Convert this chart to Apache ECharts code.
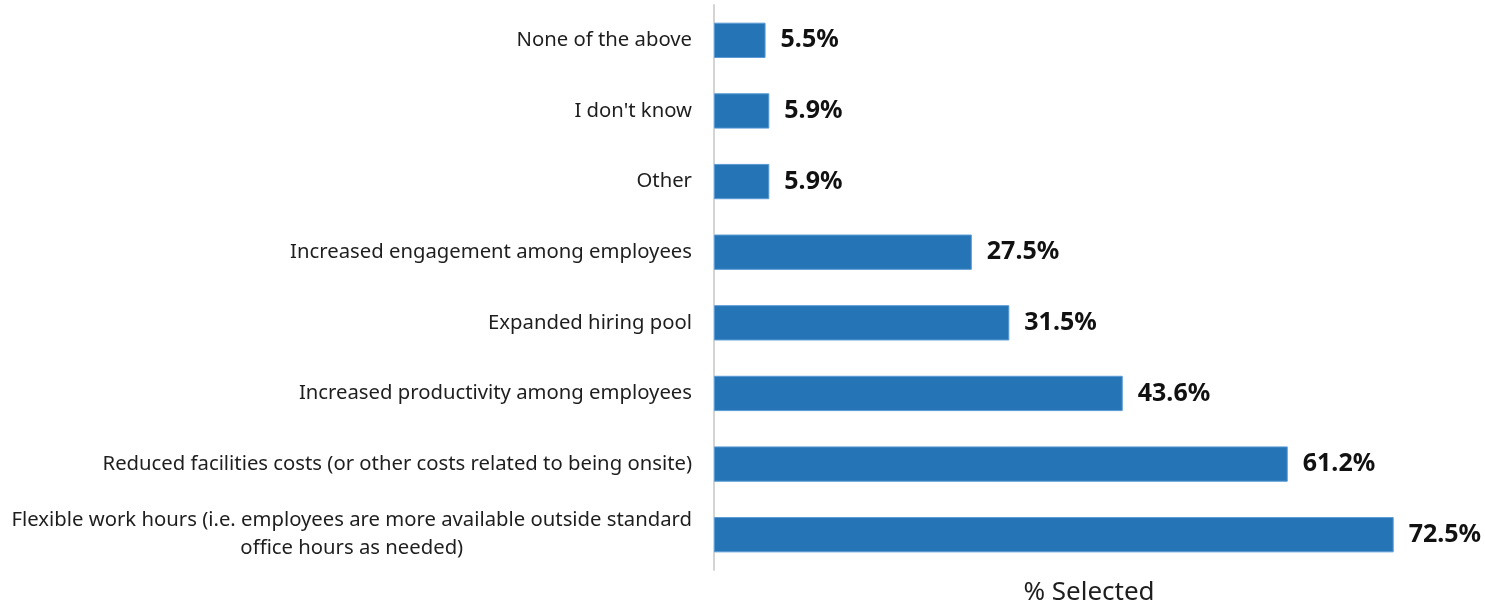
<!DOCTYPE html>
<html>
<head>
<meta charset="utf-8">
<script src="https://cdn.jsdelivr.net/npm/echarts@6/dist/echarts.min.js"></script>
<style>
  html, body { margin: 0; padding: 0; background: #ffffff; }
  #chart { width: 1485px; height: 606px; }
</style>
</head>
<body>
<div id="chart"></div>
<script>
// Survey answers, listed top to bottom
const categories = [
  'None of the above',
  "I don't know",
  'Other',
  'Increased engagement among employees',
  'Expanded hiring pool',
  'Increased productivity among employees',
  'Reduced facilities costs (or other costs related to being onsite)',
  'Flexible work hours (i.e. employees are more available outside standard\noffice hours as needed)'
];
const selectedPct = [5.5, 5.9, 5.9, 27.5, 31.5, 43.6, 61.2, 72.5];
const axisTitle = '% Selected';

const FONT = '"Noto Sans", sans-serif';
const chart = echarts.init(document.getElementById('chart'), null, { renderer: 'canvas' });

chart.setOption({
  animation: false,
  grid: { left: 714, right: 21, top: 5, height: 565, containLabel: false, outerBoundsMode: 'none' },
  xAxis: {
    type: 'value',
    min: 0,
    max: 80,
    show: true,
    name: axisTitle,
    nameLocation: 'middle',
    nameGap: 10,
    nameTextStyle: { fontFamily: FONT, fontSize: 26, color: '#1e1e1e', verticalAlign: 'top' },
    axisLine: { show: false },
    axisTick: { show: false },
    axisLabel: { show: false },
    splitLine: { show: false }
  },
  yAxis: {
    type: 'category',
    inverse: true,
    data: categories,
    axisLine: { show: true, lineStyle: { color: '#d4d4d4', width: 2 } },
    axisTick: { show: false },
    axisLabel: {
      margin: 22,
      fontFamily: FONT,
      fontSize: 20.3,
      color: '#1e1e1e',
      lineHeight: 28,
      formatter: function (v) {
        // each line is centred within the label block
        return v.split('\n').map(function (s) { return '{c|' + s + '}'; }).join('\n');
      },
      rich: { c: { align: 'center', fontFamily: FONT, fontSize: 20.3, color: '#1e1e1e', lineHeight: 28 } }
    }
  },
  series: [{
    type: 'bar',
    data: selectedPct,
    barWidth: '50%',
    itemStyle: { color: '#2574b6', borderColor: '#5b9bd5', borderWidth: 1 },
    label: {
      show: true,
      position: 'right',
      distance: 15,
      formatter: function (p) { return p.value.toFixed(1) + '%'; },
      fontFamily: FONT,
      fontSize: 25,
      fontWeight: 'bold',
      color: '#111111'
    }
  }]
});
</script>
</body>
</html>
